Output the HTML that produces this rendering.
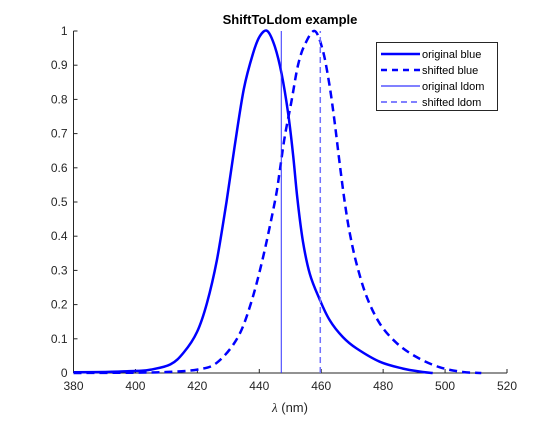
<!DOCTYPE html>
<html><head><meta charset="utf-8"><style>
body{margin:0;background:#fff;}
svg text{font-family:"Liberation Sans",sans-serif;}
</style></head><body>
<svg width="560" height="420" viewBox="0 0 560 420" id="chart">
<rect width="560" height="420" fill="#fff"/>
</svg>
<script>
const origWl=[380,390,400.5,405,411.3,415.6,419.9,423.1,426.3,429.4,432,435,438,440.2,442.6,445,447.2,449.3,450.9,452.3,454.1,456.3,459.5,462.7,467,471.4,478.9,486.4,492.8,496];
const origVal=[0.002,0.003,0.006,0.01,0.025,0.06,0.12,0.205,0.33,0.5,0.66,0.83,0.935,0.985,1.0,0.955,0.875,0.76,0.64,0.51,0.385,0.29,0.215,0.155,0.105,0.072,0.033,0.013,0.003,0.0];
const shiftWl=[380,400,410,420,426.3,432.8,437,441,445,446.6,448.2,450.4,452.5,454.7,457.9,460.6,462.7,464.4,466,467.6,469.2,471.4,474.6,478.9,484.3,490.7,498.2,505.7,511.7];
const shiftVal=[0.0,0.001,0.003,0.01,0.03,0.1,0.195,0.33,0.5,0.59,0.69,0.795,0.9,0.96,1.0,0.94,0.84,0.73,0.61,0.5,0.41,0.32,0.225,0.145,0.088,0.047,0.017,0.003,0.0];
const ldomOrig=447.1, ldomShift=459.7;
const xTicks=[380,400,420,440,460,480,500,520];
const yTicks=[0,0.1,0.2,0.3,0.4,0.5,0.6,0.7,0.8,0.9,1];
const L=73.5,R=507,T=31,B=373;
const xs=v=>L+(v-380)/140*(R-L);
const ys=v=>B-v*(B-T);
const svg=document.getElementById('chart');
const NS='http://www.w3.org/2000/svg';
function mk(t,a){const e=document.createElementNS(NS,t);for(const k in a)e.setAttribute(k,a[k]);svg.appendChild(e);return e;}
let e=mk('line',{x1:L,y1:B,x2:R,y2:B,stroke:'#262626','stroke-width':1});


e=mk('line',{x1:L,y1:B,x2:L,y2:T,stroke:'#262626','stroke-width':1});


xTicks.forEach(v=>{
 let t=mk('line',{x1:xs(v),y1:B,x2:xs(v),y2:B-4,stroke:'#262626'});
 
 
 let l=mk('text',{x:xs(v),y:B+17,'text-anchor':'middle','font-size':12,fill:'#262626'});
 l.textContent=v;
 
 
});
yTicks.forEach(v=>{
 let t=mk('line',{x1:L,y1:ys(v),x2:L+4,y2:ys(v),stroke:'#262626'});
 
 
 let l=mk('text',{x:L-6,y:ys(v)+4,'text-anchor':'end','font-size':12,fill:'#262626'});
 l.textContent=String(v);
 
 
});
function path(wl,val){
 const p=wl.map((w,i)=>[xs(w),ys(val[i])]);
 let d='M'+p[0][0].toFixed(1)+','+p[0][1].toFixed(1);
 for(let i=0;i<p.length-1;i++){
  const p0=p[Math.max(0,i-1)],p1=p[i],p2=p[i+1],p3=p[Math.min(p.length-1,i+2)];
  const c1=[p1[0]+(p2[0]-p0[0])/6,p1[1]+(p2[1]-p0[1])/6];
  const c2=[p2[0]-(p3[0]-p1[0])/6,p2[1]-(p3[1]-p1[1])/6];
  c1[1]=Math.min(c1[1],B);c2[1]=Math.min(c2[1],B);
  d+='C'+c1[0].toFixed(1)+','+c1[1].toFixed(1)+' '+c2[0].toFixed(1)+','+c2[1].toFixed(1)+' '+p2[0].toFixed(1)+','+p2[1].toFixed(1);
 }
 return d;
}
e=mk('path',{d:path(origWl,origVal),fill:'none',stroke:'#0000ff','stroke-width':2.5,'stroke-linejoin':'round'});


e=mk('path',{d:path(shiftWl,shiftVal),fill:'none',stroke:'#0000ff','stroke-width':2.5,'stroke-dasharray':'8,5'});


e=mk('line',{x1:xs(ldomOrig),y1:B,x2:xs(ldomOrig),y2:T,stroke:'#3030ff','stroke-width':1});


e=mk('line',{x1:xs(ldomShift),y1:B,x2:xs(ldomShift),y2:T,stroke:'#7070ff','stroke-width':1.5,'stroke-dasharray':'6,4'});


e=mk('text',{x:290,y:24,'text-anchor':'middle','font-size':13,'font-weight':'bold',fill:'#000'});
e.textContent='ShiftToLdom example';


e=mk('text',{x:290,y:412,'text-anchor':'middle','font-size':13,fill:'#262626'});
e.innerHTML='<tspan font-family="Liberation Serif" font-style="italic">λ</tspan> (nm)';


e=mk('rect',{x:376.5,y:42.5,width:121,height:68,fill:'#fff',stroke:'#262626','stroke-width':1});


const leg=[['original blue',2.5,''],['shifted blue',2.5,'6,5'],['original ldom',1,''],['shifted ldom',1,'6,4']];
leg.forEach((d,i)=>{
 const y=54+i*16;
 let ln=mk('line',{x1:381,y1:y,x2:420,y2:y,stroke:'#0000ff','stroke-width':d[1],'stroke-dasharray':d[2]});
 
 
 let t=mk('text',{x:422,y:y+4,'font-size':11,fill:'#000'});
 t.textContent=d[0];
 
 
});
</script>
</body></html>
